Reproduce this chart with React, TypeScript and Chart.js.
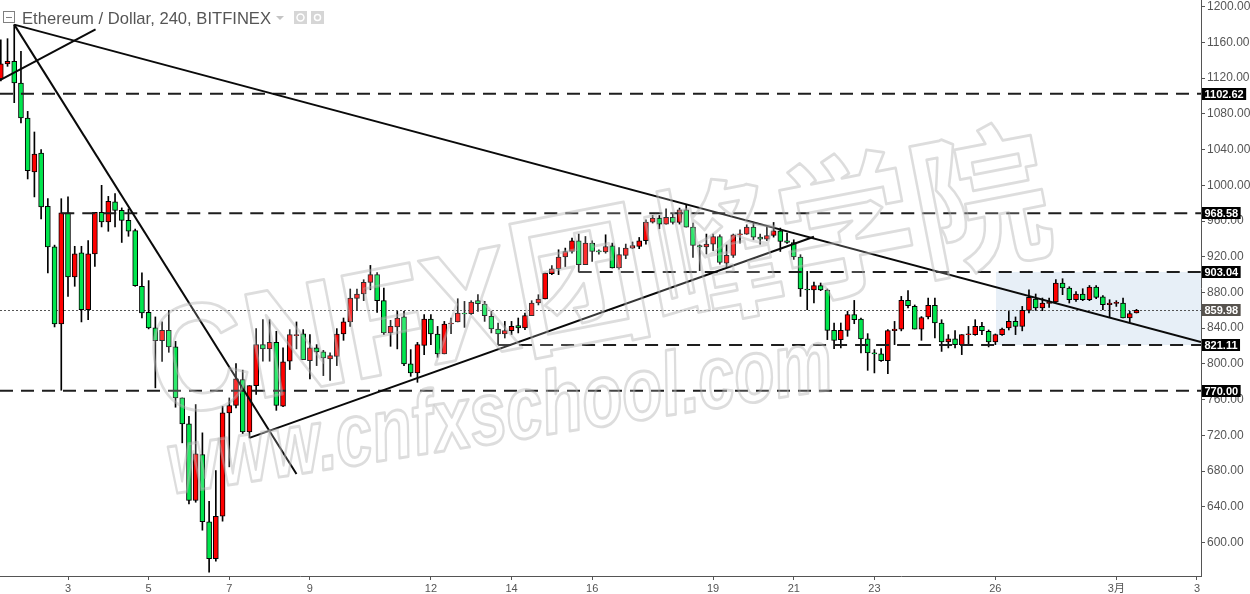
import React, { useEffect, useRef } from 'react';
import { Chart, registerables } from 'chart.js';

Chart.register(...registerables);

const chartTitle = 'Ethereum / Dollar, 240, BITFINEX';

// x-axis: candle index (4h candles), tick labels at day starts
const dayTickIndex = [10, 22, 34, 46, 64, 76, 88, 106, 118, 130, 148, 166, 178];
const dayTickLabels = ['3', '5', '7', '9', '12', '14', '16', '19', '21', '23', '26', '3月', '3'];
const priceTicks = [600, 640, 680, 720, 760, 800, 840, 880, 920, 960, 1000, 1040, 1080, 1120, 1160, 1200];

const openPrices = [
  1119.1, 1135.9, 1138.8, 1114.6, 1075.4, 1015.0, 1036.2, 976.4, 931.0, 844.8,
  969.1, 897.4, 924.3, 860.8, 923.2, 969.7, 959.0, 981.4, 972.0, 960.8,
  949.3, 886.9, 857.8, 840.3, 826.1, 837.7, 819.0, 761.9, 732.9, 647.0,
  698.5, 623.2, 581.8, 629.4, 745.2, 753.4, 782.5, 723.9, 775.7, 821.6,
  816.8, 824.2, 752.6, 803.0, 831.5, 833.6, 803.7, 818.0, 813.4, 805.6,
  808.5, 833.5, 847.0, 873.3, 878.3, 891.3, 899.9, 870.8, 834.7, 841.4,
  852.6, 800.0, 789.9, 820.8, 850.3, 833.5, 811.2, 844.7, 847.0, 857.0,
  856.3, 870.8, 867.1, 853.2, 839.1, 833.5, 837.2, 842.8, 840.3, 854.0,
  868.2, 872.7, 901.0, 906.6, 919.7, 925.9, 937.9, 911.1, 935.3, 926.7,
  925.3, 932.3, 907.4, 921.5, 929.7, 931.5, 937.9, 958.8, 963.3, 956.6,
  964.0, 958.4, 972.6, 953.2, 932.6, 930.9, 934.2, 942.7, 912.9, 921.5,
  944.6, 945.4, 953.2, 942.0, 939.8, 943.8, 949.1, 937.9, 936.0, 919.7,
  883.9, 882.8, 887.6, 882.8, 837.6, 827.2, 837.6, 855.1, 850.3, 828.0,
  812.3, 811.2, 803.7, 837.2, 839.0, 871.1, 864.4, 839.0, 852.6, 865.5,
  845.8, 824.6, 828.0, 821.6, 832.8, 832.8, 842.0, 836.5, 824.6, 832.8,
  840.3, 847.6, 842.0, 860.0, 872.7, 862.6, 868.2, 869.3, 890.6, 885.0,
  871.9, 878.3, 871.9, 886.1, 875.0, 866.3, 868.2, 868.2, 851.4, 857.0,
];
const highPrices = [
  1163.0, 1164.2, 1179.9, 1150.0, 1082.8, 1059.7, 1040.0, 985.0, 933.0, 985.0,
  987.0, 931.7, 931.7, 938.0, 969.7, 1000.0, 987.6, 990.7, 974.7, 973.5,
  951.0, 901.9, 893.3, 852.6, 847.0, 860.0, 825.3, 761.9, 741.4, 754.5,
  722.8, 646.2, 680.6, 752.6, 761.9, 800.4, 793.0, 775.7, 839.6, 849.6,
  849.6, 836.5, 818.0, 838.4, 847.0, 838.4, 832.8, 821.6, 815.2, 812.3,
  839.5, 851.4, 883.9, 883.9, 894.3, 910.3, 902.4, 885.0, 848.8, 858.8,
  858.8, 816.0, 824.1, 855.1, 855.1, 842.0, 847.6, 851.4, 873.0, 870.0,
  870.8, 877.5, 870.0, 858.8, 845.8, 847.6, 847.6, 851.4, 857.0, 870.8,
  877.5, 901.8, 910.0, 927.8, 929.7, 941.0, 945.4, 942.7, 937.9, 927.8,
  944.6, 935.3, 930.4, 934.2, 936.5, 941.6, 961.4, 966.2, 966.2, 973.7,
  967.8, 974.5, 978.2, 957.7, 933.4, 945.4, 945.4, 944.6, 933.4, 945.4,
  950.2, 955.8, 957.7, 945.4, 953.9, 958.4, 952.1, 946.5, 939.0, 922.3,
  903.6, 891.7, 890.6, 883.9, 845.8, 845.8, 858.8, 871.1, 851.4, 833.9,
  816.0, 817.1, 838.4, 847.6, 875.6, 882.0, 866.0, 853.0, 873.8, 873.8,
  849.5, 832.8, 837.2, 832.8, 842.0, 849.5, 846.5, 838.0, 833.5, 840.0,
  858.8, 852.6, 864.4, 883.0, 878.3, 873.8, 873.8, 894.3, 895.4, 886.4,
  881.0, 884.2, 887.8, 887.8, 876.6, 871.9, 870.8, 873.8, 858.8, 861.1,
];
const lowPrices = [
  1117.0, 1133.2, 1092.5, 1069.8, 1007.1, 987.0, 962.3, 901.9, 841.4, 770.5,
  875.7, 886.9, 847.0, 849.6, 909.3, 953.4, 948.5, 953.4, 936.0, 942.9,
  886.9, 851.5, 839.2, 773.2, 802.9, 813.0, 751.5, 711.6, 643.3, 645.1,
  613.8, 566.7, 579.0, 623.9, 684.7, 750.8, 722.0, 717.2, 765.7, 803.0,
  803.0, 748.0, 752.0, 793.7, 816.8, 804.8, 783.2, 798.1, 786.9, 781.6,
  798.1, 826.4, 842.0, 859.6, 870.8, 883.0, 857.7, 832.8, 819.7, 816.8,
  798.1, 786.1, 779.4, 810.4, 821.6, 807.4, 811.2, 833.9, 847.0, 840.9,
  855.1, 858.8, 847.6, 834.7, 821.6, 829.0, 832.8, 834.7, 838.4, 854.0,
  866.0, 872.7, 900.0, 900.0, 909.0, 924.0, 902.9, 911.1, 914.7, 923.0,
  924.0, 907.4, 906.0, 917.8, 929.0, 929.0, 934.2, 957.7, 951.3, 956.6,
  956.6, 956.6, 953.2, 919.2, 904.4, 923.0, 926.7, 911.8, 908.0, 919.2,
  935.3, 945.0, 939.0, 934.2, 938.0, 942.0, 925.9, 935.0, 917.0, 875.6,
  860.7, 868.2, 882.0, 827.2, 817.1, 817.9, 830.9, 845.0, 812.3, 792.8,
  789.9, 802.9, 789.0, 821.6, 837.0, 862.6, 839.0, 826.4, 850.3, 829.0,
  814.0, 817.9, 817.9, 810.4, 821.6, 832.0, 832.8, 819.0, 821.6, 832.0,
  838.0, 832.8, 837.0, 857.0, 860.0, 859.6, 863.3, 868.2, 877.5, 868.2,
  870.0, 870.8, 870.8, 873.0, 860.7, 852.0, 864.4, 851.4, 847.0, 857.0,
];
const closePrices = [
  1135.9, 1138.8, 1114.6, 1075.4, 1016.4, 1035.1, 975.8, 931.0, 844.8, 969.1,
  897.4, 923.2, 860.8, 923.2, 969.7, 959.0, 982.1, 972.0, 960.8, 948.5,
  887.7, 857.1, 840.3, 826.1, 837.7, 819.0, 761.9, 732.9, 647.0, 699.3,
  623.2, 581.8, 629.4, 745.2, 753.4, 783.2, 723.9, 775.7, 821.6, 816.8,
  824.2, 753.4, 802.3, 832.8, 832.8, 804.8, 818.0, 813.4, 806.7, 809.3,
  833.5, 847.0, 873.8, 878.3, 891.3, 899.9, 870.8, 834.7, 842.0, 851.4,
  800.0, 789.9, 821.6, 850.3, 833.5, 811.2, 844.7, 845.8, 857.0, 856.0,
  869.3, 867.4, 854.0, 839.1, 833.5, 837.2, 842.0, 840.3, 854.0, 868.2,
  872.7, 901.8, 906.6, 919.7, 925.9, 937.9, 911.1, 935.3, 925.9, 925.3,
  931.5, 907.4, 922.3, 929.7, 932.6, 937.9, 958.8, 963.3, 956.6, 964.0,
  958.4, 972.6, 953.2, 932.6, 930.9, 934.2, 942.7, 913.6, 921.5, 944.6,
  945.4, 953.2, 942.0, 939.8, 943.8, 949.1, 937.1, 936.0, 919.7, 883.9,
  882.8, 887.6, 882.8, 837.6, 826.4, 837.6, 855.1, 849.5, 828.0, 812.3,
  811.2, 803.7, 837.2, 839.0, 871.1, 865.2, 839.0, 852.0, 865.5, 845.8,
  824.6, 828.0, 821.6, 832.8, 833.5, 842.0, 837.2, 824.6, 832.8, 839.0,
  847.6, 842.0, 860.0, 874.5, 862.6, 868.2, 868.6, 890.6, 885.0, 871.9,
  878.3, 871.9, 886.1, 874.5, 866.3, 868.2, 868.6, 851.4, 856.3, 859.98,
];

// horizontal levels (price, index where the level starts)
const levelPrices = [1102.62, 968.58, 903.04, 821.11, 770.0];
const levelStartIndex = [-0.12, 9, 86, 74, -0.12];
const lastPrice = 859.98;
// shaded zone
const zoneStartIndex = 148.1;
const zoneHigh = 903.04;
const zoneLow = 821.11;
// drawn trend lines: [index, price] pairs
const trendLineA = [[2, 1179.9], [178.6, 824.5]];
const trendLineB = [[2, 1179.9], [44.0, 676.7]];
const trendLineC = [[-0.12, 1117.9], [14.1, 1174.7]];
const trendLineD = [[37, 717.2], [121.0, 942.4]];

const X_MIN = -0.119;
const X_MAX = 178.6;
const Y_MIN = 562.5;
const Y_MAX = 1207.5;

const UP_COLOR = '#ff0000';
const DOWN_COLOR = '#00e64d';
const FONT = '"Liberation Sans", Arial, "Noto Sans CJK SC", sans-serif';

function bodyRange(o: number, c: number): [number, number] {
  if (Math.abs(c - o) < 1.1) {
    const m = (o + c) / 2;
    return [m - 0.55, m + 0.55];
  }
  return [o, c];
}

const overlayPlugin = {
  id: 'overlay',
  beforeDatasetsDraw(chart: any) {
    const { ctx, chartArea, scales } = chart;
    const x = scales.x;
    const y = scales.y;
    ctx.save();
    ctx.beginPath();
    ctx.rect(chartArea.left, chartArea.top, chartArea.width, chartArea.height);
    ctx.clip();
    // shaded zone
    const x0 = x.getPixelForValue(zoneStartIndex);
    const y0 = y.getPixelForValue(zoneHigh);
    const y1 = y.getPixelForValue(zoneLow);
    ctx.fillStyle = 'rgb(231,239,247)';
    ctx.fillRect(x0, y0, chartArea.right - x0, y1 - y0);
    // current price dotted line
    const yp = Math.round(y.getPixelForValue(lastPrice)) + 0.5;
    ctx.strokeStyle = '#555';
    ctx.lineWidth = 1;
    ctx.setLineDash([2, 2]);
    ctx.beginPath();
    ctx.moveTo(chartArea.left, yp);
    ctx.lineTo(chartArea.right, yp);
    ctx.stroke();
    ctx.restore();
  },
  afterDatasetsDraw(chart: any) {
    const { ctx, chartArea } = chart;
    ctx.save();
    ctx.beginPath();
    ctx.rect(chartArea.left, chartArea.top, chartArea.width, chartArea.height);
    ctx.clip();
    ctx.lineJoin = 'round';
    // watermark line 1
    ctx.save();
    ctx.translate(160, 418);
    ctx.rotate((-11 * Math.PI) / 180);
    ctx.scale(1, 1.12);
    ctx.font = `bold 136px ${FONT}`;
    ctx.textBaseline = 'alphabetic';
    ctx.fillStyle = 'rgba(255,255,255,0.18)';
    ctx.fillText('CNFX团峰学院', 0, 0);
    ctx.strokeStyle = 'rgba(180,180,180,0.45)';
    ctx.lineWidth = 2.5;
    ctx.strokeText('CNFX团峰学院', 0, 0);
    ctx.restore();
    // watermark line 2
    ctx.save();
    ctx.translate(172, 494);
    ctx.rotate((-9 * Math.PI) / 180);
    ctx.scale(1, 1.35);
    ctx.font = `italic bold 66px ${FONT}`;
    ctx.fillStyle = 'rgba(255,255,255,0.18)';
    ctx.fillText('www.cnfxschool.com', 0, 0);
    ctx.strokeStyle = 'rgba(180,180,180,0.45)';
    ctx.lineWidth = 2.2;
    ctx.strokeText('www.cnfxschool.com', 0, 0);
    ctx.restore();
    ctx.restore();
  },
  afterDraw(chart: any) {
    const { ctx, scales } = chart;
    const y = scales.y;
    const left = y.left + 1;
    const drawTag = (text: string, price: number, bg: string) => {
      ctx.save();
      ctx.font = `bold 11px ${FONT}`;
      const w = ctx.measureText(text).width;
      const yc = y.getPixelForValue(price);
      const h = 12;
      ctx.fillStyle = bg;
      ctx.fillRect(left, Math.round(yc - h / 2), w + 5, h);
      ctx.fillStyle = '#ffffff';
      ctx.textBaseline = 'middle';
      ctx.textAlign = 'left';
      ctx.fillText(text, left + 2.5, Math.round(yc - h / 2) + h / 2 + 0.5);
      ctx.restore();
    };
    levelPrices.forEach((p) => drawTag(p.toFixed(2), p, '#000000'));
    drawTag(lastPrice.toFixed(2), lastPrice, '#57534e');

    // header
    ctx.save();
    ctx.strokeStyle = '#808080';
    ctx.lineWidth = 1;
    ctx.strokeRect(3.5, 11.5, 11, 11);
    ctx.beginPath();
    ctx.moveTo(6, 17.5);
    ctx.lineTo(12, 17.5);
    ctx.stroke();
    ctx.font = `16.6px ${FONT}`;
    ctx.fillStyle = '#555555';
    ctx.textBaseline = 'alphabetic';
    ctx.fillText(chartTitle, 22, 24);
    const tw = ctx.measureText(chartTitle).width;
    const tx = 22 + tw + 5;
    ctx.fillStyle = '#c4c4c4';
    ctx.beginPath();
    ctx.moveTo(tx, 16);
    ctx.lineTo(tx + 8, 16);
    ctx.lineTo(tx + 4, 20);
    ctx.closePath();
    ctx.fill();
    const bx = tx + 18;
    ctx.fillStyle = '#d6d6d6';
    ctx.fillRect(bx, 11, 13, 13);
    ctx.fillRect(bx + 17, 11, 13, 13);
    ctx.strokeStyle = '#ffffff';
    ctx.lineWidth = 1.5;
    ctx.beginPath();
    ctx.arc(bx + 6.5, 17.5, 3.5, 0, Math.PI * 2);
    ctx.stroke();
    ctx.beginPath();
    ctx.arc(bx + 23.5, 17.5, 3, 0, Math.PI * 2);
    ctx.stroke();
    ctx.restore();
  },
};

export default function App() {
  const canvasRef = useRef<HTMLCanvasElement | null>(null);

  useEffect(() => {
    const canvas = canvasRef.current;
    if (!canvas) return;

    const bodies = openPrices.map((o, i) => ({ x: i, y: bodyRange(o, closePrices[i]) }));
    const bodyColors = openPrices.map((o, i) => (closePrices[i] >= o ? UP_COLOR : DOWN_COLOR));
    const wicks = lowPrices.map((l, i) => ({ x: i, y: [l, highPrices[i]] }));

    const levelSets = levelPrices.map((p, k) => ({
      type: 'line' as const,
      data: [
        { x: levelStartIndex[k], y: p },
        { x: X_MAX, y: p },
      ],
      borderColor: '#1e1e1e',
      borderWidth: 2,
      borderDash: [13, 8],
      pointRadius: 0,
      fill: false,
      order: 0,
    }));
    const trendSets = [trendLineA, trendLineB, trendLineC, trendLineD].map((ln) => ({
      type: 'line' as const,
      data: ln.map(([xi, p]) => ({ x: xi, y: p })),
      borderColor: '#0a0a0a',
      borderWidth: 2,
      pointRadius: 0,
      fill: false,
      order: -1,
    }));

    const chart = new Chart(canvas, {
      type: 'bar',
      data: {
        datasets: [
          {
            type: 'bar',
            data: bodies as any,
            backgroundColor: bodyColors,
            borderColor: '#000000',
            borderWidth: 1,
            borderSkipped: false,
            barThickness: 5,
            grouped: false,
            order: 1,
          } as any,
          {
            type: 'bar',
            data: wicks as any,
            backgroundColor: '#000000',
            borderWidth: 0,
            barThickness: 1,
            grouped: false,
            order: 2,
          } as any,
          ...(levelSets as any[]),
          ...(trendSets as any[]),
        ],
      },
      options: {
        animation: false,
        responsive: true,
        maintainAspectRatio: false,
        devicePixelRatio: 1,
        events: [],
        layout: { padding: 0 },
        plugins: {
          legend: { display: false },
          tooltip: { enabled: false },
        },
        scales: {
          x: {
            type: 'linear',
            min: X_MIN,
            max: X_MAX,
            offset: false,
            afterBuildTicks: (scale: any) => {
              scale.ticks = dayTickIndex.map((v) => ({ value: v }));
            },
            afterFit: (scale: any) => {
              scale.height = 18;
              scale.paddingLeft = 0;
              scale.paddingRight = 0;
              scale.paddingTop = 0;
              scale.paddingBottom = 0;
            },
            ticks: {
              autoSkip: false,
              maxRotation: 0,
              minRotation: 0,
              padding: 2,
              color: '#555555',
              font: { size: 11, family: FONT },
              callback: (v: any) => {
                const k = dayTickIndex.indexOf(Number(v));
                return k >= 0 ? dayTickLabels[k] : '';
              },
            },
            grid: { offset: false, drawOnChartArea: false, drawTicks: true, tickLength: 4, color: '#555555' },
            border: { display: true, color: '#555555', width: 1 },
          },
          y: {
            type: 'linear',
            position: 'right',
            min: Y_MIN,
            max: Y_MAX,
            afterBuildTicks: (scale: any) => {
              scale.ticks = priceTicks.map((v) => ({ value: v }));
            },
            afterFit: (scale: any) => {
              scale.width = 49;
              scale.paddingTop = 0;
              scale.paddingBottom = 0;
              scale.paddingLeft = 0;
              scale.paddingRight = 0;
            },
            ticks: {
              autoSkip: false,
              padding: 2,
              color: '#555555',
              font: { size: 12, family: FONT },
              callback: (v: any) => Number(v).toFixed(2),
            },
            grid: { offset: false, drawOnChartArea: false, drawTicks: true, tickLength: 4, color: '#555555' },
            border: { display: true, color: '#555555', width: 1 },
          },
        },
      } as any,
      plugins: [overlayPlugin],
    });

    return () => {
      chart.destroy();
    };
  }, []);

  return (
    <div
      style={{
        position: 'absolute',
        left: 0,
        top: 0,
        width: 1250,
        height: 594,
        background: '#ffffff',
      }}
    >
      <canvas ref={canvasRef} />
    </div>
  );
}
